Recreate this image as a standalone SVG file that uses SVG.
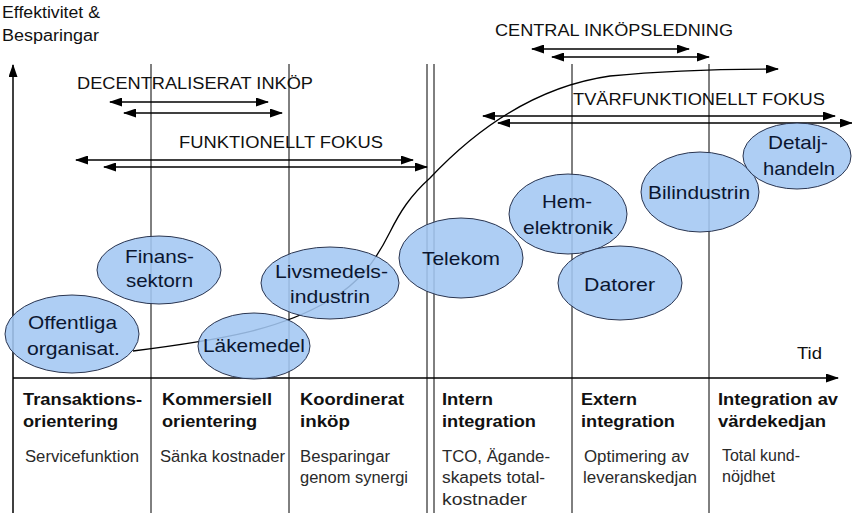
<svg xmlns="http://www.w3.org/2000/svg" width="852" height="513" viewBox="0 0 852 513">
<defs>
<marker id="ah" markerUnits="userSpaceOnUse" markerWidth="13" markerHeight="9" refX="12" refY="4.5" orient="auto-start-reverse" viewBox="0 0 13 9">
<path d="M0,0 L13,4.5 L0,9 z" fill="#000"/>
</marker>
<style>
.t{font-family:"Liberation Sans",Arial,sans-serif;fill:#111;}
.lab{font-size:16px;}
.ov{font-size:16px;}
.nd{font-size:19px;fill:#0b1630;}
.hd{font-size:17px;font-weight:bold;}
.sb{font-size:16px;fill:#2a2a2a;}
.ell{fill:#a3c7f2;fill-opacity:0.88;stroke:#2a3550;stroke-width:1;}
.vl{stroke:#000;stroke-width:1;fill:none;}
.ar{stroke:#000;stroke-width:1.3;fill:none;}
</style>
</defs>
<rect width="852" height="513" fill="#fff"/>

<g id="grid">
<line class="vl" x1="151" y1="64" x2="151" y2="513"/>
<line class="vl" x1="289" y1="64" x2="289" y2="513"/>
<line class="vl" x1="427" y1="64" x2="427" y2="513"/>
<line class="vl" x1="434" y1="64" x2="434" y2="513"/>
<line class="vl" x1="572" y1="64" x2="572" y2="513"/>
<line class="vl" x1="709" y1="64" x2="709" y2="513"/>
</g>

<g id="axes">
<line x1="13" y1="513" x2="13" y2="65" stroke="#000" stroke-width="1.5" marker-end="url(#ah)"/>
<line x1="13" y1="378" x2="838" y2="378" stroke="#000" stroke-width="1.5" marker-end="url(#ah)"/>
<text class="t lab" x="2" y="18" textLength="98" lengthAdjust="spacingAndGlyphs">Effektivitet &amp;</text>
<text class="t lab" x="2" y="41" textLength="97" lengthAdjust="spacingAndGlyphs">Besparingar</text>
<text class="t lab" x="797" y="359" textLength="25" lengthAdjust="spacingAndGlyphs">Tid</text>
</g>

<g id="connectors">
<path class="ar" d="M133,351 C220,340 280,330 330,300 C360,282 375,262 390,232 C400,212 410,196 430,178 C480,125 540,86 610,76 C680,69 740,69 778,69" stroke-width="1.6" marker-end="url(#ah)"/>
<line class="ar" x1="110" y1="102" x2="268" y2="102" marker-start="url(#ah)" marker-end="url(#ah)"/>
<line class="ar" x1="124" y1="113" x2="282" y2="113" marker-start="url(#ah)" marker-end="url(#ah)"/>
<line class="ar" x1="76" y1="160" x2="413" y2="160" marker-start="url(#ah)" marker-end="url(#ah)"/>
<line class="ar" x1="104" y1="167" x2="427" y2="167" marker-start="url(#ah)" marker-end="url(#ah)"/>
<line class="ar" x1="532" y1="49" x2="689" y2="49" marker-start="url(#ah)" marker-end="url(#ah)"/>
<line class="ar" x1="552" y1="57" x2="709" y2="57" marker-start="url(#ah)" marker-end="url(#ah)"/>
<line class="ar" x1="483" y1="116" x2="835" y2="116" marker-start="url(#ah)" marker-end="url(#ah)"/>
<line class="ar" x1="498" y1="123" x2="852" y2="123" marker-start="url(#ah)" marker-end="url(#ah)"/>
</g>

<g id="overlays">
<text class="t ov" x="77" y="89" textLength="236" lengthAdjust="spacingAndGlyphs">DECENTRALISERAT INKÖP</text>
<text class="t ov" x="179" y="148" textLength="204" lengthAdjust="spacingAndGlyphs">FUNKTIONELLT FOKUS</text>
<text class="t ov" x="495" y="36" textLength="238" lengthAdjust="spacingAndGlyphs">CENTRAL INKÖPSLEDNING</text>
<text class="t ov" x="573" y="105" textLength="252" lengthAdjust="spacingAndGlyphs">TVÄRFUNKTIONELLT FOKUS</text>
</g>

<g id="n-offentliga">
<ellipse class="ell" cx="72" cy="334" rx="67" ry="39"/>
<text class="t nd" x="28" y="329" textLength="89" lengthAdjust="spacingAndGlyphs">Offentliga</text>
<text class="t nd" x="27" y="355" textLength="93" lengthAdjust="spacingAndGlyphs">organisat.</text>
</g>
<g id="n-finans">
<ellipse class="ell" cx="159" cy="270" rx="62" ry="34"/>
<text class="t nd" x="125" y="263" textLength="69" lengthAdjust="spacingAndGlyphs">Finans-</text>
<text class="t nd" x="126" y="287" textLength="67" lengthAdjust="spacingAndGlyphs">sektorn</text>
</g>
<g id="n-lakemedel">
<ellipse class="ell" cx="254" cy="346" rx="56" ry="33"/>
<text class="t nd" x="203" y="352" textLength="102" lengthAdjust="spacingAndGlyphs">Läkemedel</text>
</g>
<g id="n-livsmedel">
<ellipse class="ell" cx="330" cy="283" rx="69" ry="36"/>
<text class="t nd" x="275" y="278" textLength="113" lengthAdjust="spacingAndGlyphs">Livsmedels-</text>
<text class="t nd" x="290" y="303" textLength="80" lengthAdjust="spacingAndGlyphs">industrin</text>
</g>
<g id="n-telekom">
<ellipse class="ell" cx="461" cy="258" rx="62" ry="40"/>
<text class="t nd" x="422" y="265" textLength="78" lengthAdjust="spacingAndGlyphs">Telekom</text>
</g>
<g id="n-hemelektronik">
<ellipse class="ell" cx="568" cy="214" rx="59" ry="40"/>
<text class="t nd" x="542" y="208" textLength="50" lengthAdjust="spacingAndGlyphs">Hem-</text>
<text class="t nd" x="523" y="234" textLength="90" lengthAdjust="spacingAndGlyphs">elektronik</text>
</g>
<g id="n-datorer">
<ellipse class="ell" cx="620" cy="283" rx="62" ry="37"/>
<text class="t nd" x="584" y="291" textLength="71" lengthAdjust="spacingAndGlyphs">Datorer</text>
</g>
<g id="n-bilindustrin">
<ellipse class="ell" cx="700" cy="192" rx="59" ry="40"/>
<text class="t nd" x="648" y="199" textLength="102" lengthAdjust="spacingAndGlyphs">Bilindustrin</text>
</g>
<g id="n-detaljhandeln">
<ellipse class="ell" cx="797" cy="156" rx="54" ry="33"/>
<text class="t nd" x="768" y="149" textLength="60" lengthAdjust="spacingAndGlyphs">Detalj-</text>
<text class="t nd" x="763" y="175" textLength="72" lengthAdjust="spacingAndGlyphs">handeln</text>
</g>

<g id="phases">
<text class="t hd" x="23" y="405" textLength="119" lengthAdjust="spacingAndGlyphs">Transaktions-</text>
<text class="t hd" x="23" y="427" textLength="95" lengthAdjust="spacingAndGlyphs">orientering</text>
<text class="t sb" x="25" y="462" textLength="114" lengthAdjust="spacingAndGlyphs">Servicefunktion</text>

<text class="t hd" x="162" y="405" textLength="110" lengthAdjust="spacingAndGlyphs">Kommersiell</text>
<text class="t hd" x="162" y="427" textLength="95" lengthAdjust="spacingAndGlyphs">orientering</text>
<text class="t sb" x="160" y="462" textLength="125" lengthAdjust="spacingAndGlyphs">Sänka kostnader</text>

<text class="t hd" x="300" y="405" textLength="104" lengthAdjust="spacingAndGlyphs">Koordinerat</text>
<text class="t hd" x="300" y="427" textLength="50" lengthAdjust="spacingAndGlyphs">inköp</text>
<text class="t sb" x="300" y="462" textLength="90" lengthAdjust="spacingAndGlyphs">Besparingar</text>
<text class="t sb" x="300" y="483" textLength="108" lengthAdjust="spacingAndGlyphs">genom synergi</text>

<text class="t hd" x="442" y="405" textLength="51" lengthAdjust="spacingAndGlyphs">Intern</text>
<text class="t hd" x="442" y="427" textLength="94" lengthAdjust="spacingAndGlyphs">integration</text>
<text class="t sb" x="442" y="462" textLength="108" lengthAdjust="spacingAndGlyphs">TCO, Ägande-</text>
<text class="t sb" x="442" y="483" textLength="103" lengthAdjust="spacingAndGlyphs">skapets total-</text>
<text class="t sb" x="442" y="505" textLength="85" lengthAdjust="spacingAndGlyphs">kostnader</text>

<text class="t hd" x="581" y="405" textLength="56" lengthAdjust="spacingAndGlyphs">Extern</text>
<text class="t hd" x="581" y="427" textLength="94" lengthAdjust="spacingAndGlyphs">integration</text>
<text class="t sb" x="584" y="462" textLength="105" lengthAdjust="spacingAndGlyphs">Optimering av</text>
<text class="t sb" x="583" y="483" textLength="114" lengthAdjust="spacingAndGlyphs">leveranskedjan</text>

<text class="t hd" x="718" y="405" textLength="120" lengthAdjust="spacingAndGlyphs">Integration av</text>
<text class="t hd" x="718" y="427" textLength="108" lengthAdjust="spacingAndGlyphs">värdekedjan</text>
<text class="t sb" x="722" y="461" textLength="78" lengthAdjust="spacingAndGlyphs">Total kund-</text>
<text class="t sb" x="722" y="482" textLength="53" lengthAdjust="spacingAndGlyphs">nöjdhet</text>
</g>
</svg>
